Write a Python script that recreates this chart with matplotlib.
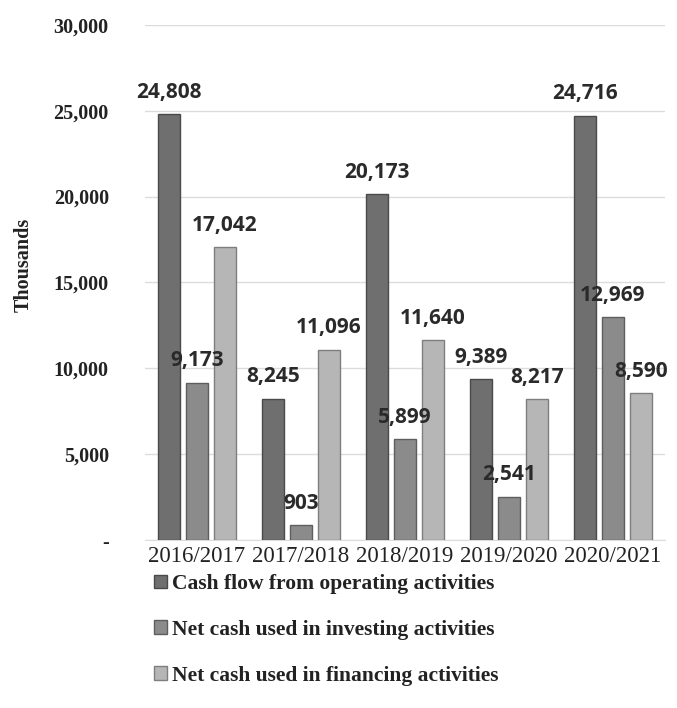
import matplotlib
matplotlib.use("Agg")
import matplotlib.pyplot as plt
import numpy as np
from matplotlib.ticker import FuncFormatter

years = ["2016/2017", "2017/2018", "2018/2019", "2019/2020", "2020/2021"]
operating = [24808, 8245, 20173, 9389, 24716]
investing = [9173, 903, 5899, 2541, 12969]
financing = [17042, 11096, 11640, 8217, 8590]
series_names = ["Cash flow from operating activities",
                "Net cash used in investing activities",
                "Net cash used in financing activities"]
yticks = [0, 5000, 10000, 15000, 20000, 25000, 30000]

colors = ["#6f6f6f", "#8b8b8b", "#b6b6b6"]
edges = ["#4a4a4a", "#5e5e5e", "#7e7e7e"]

fig = plt.figure(figsize=(6.77, 7.08), dpi=100)
ax = fig.add_axes([0.214, 0.237, 0.768, 0.728])

x = np.arange(len(years))
width = 0.21
pitch = 0.27
serif = ["Liberation Serif", "DejaVu Serif"]
handles = []
for i, (vals, name) in enumerate(zip([operating, investing, financing], series_names)):
    pos = x + (i - 1) * pitch
    b = ax.bar(pos, vals, width, color=colors[i], edgecolor=edges[i], linewidth=1.0,
               label=name, zorder=3)
    handles.append(b)
    for p, v in zip(pos, vals):
        ax.annotate(f"{v:,}", (p, v), xytext=(0, 8), textcoords="offset points",
                    ha="center", va="bottom", fontsize=15, fontweight="bold",
                    color="#2a2a2a", family=["Open Sans", "DejaVu Sans"], zorder=6)

ax.set_xlim(-0.5, len(years) - 0.5)
ax.set_ylim(0, 30000)
ax.set_yticks(yticks)
ax.yaxis.set_major_formatter(FuncFormatter(lambda v, _: "-" if v == 0 else f"{int(v):,}"))
ax.set_xticks(x)
ax.set_xticklabels(years, family=serif, fontsize=16.5, color="#222222")
for lab in ax.get_yticklabels():
    lab.set_family(serif)
    lab.set_fontweight("bold")
    lab.set_fontsize(14.5)
    lab.set_color("#222222")
ax.tick_params(axis="both", length=0)
ax.tick_params(axis="y", pad=26)
ax.tick_params(axis="x", pad=4)
ax.grid(axis="y", color="#dcdcdc", linewidth=1.0, zorder=0)
for s in ["top", "right", "left"]:
    ax.spines[s].set_visible(False)
ax.spines["bottom"].set_color("#dcdcdc")
ax.set_ylabel("Thousands", family=serif, fontweight="bold", fontsize=14.5,
              color="#222222")
ax.yaxis.set_label_coords(-0.214, 0.534)

leg = ax.legend(handles=handles, loc="upper left", bbox_to_anchor=(-0.02, -0.028),
                frameon=False, ncol=1, handlelength=0.6, handleheight=0.6,
                handletextpad=0.25, labelspacing=1.2,
                prop={"family": serif, "weight": "bold", "size": 15.5})
for t in leg.get_texts():
    t.set_color("#222222")

fig.savefig("out.png", dpi=100, facecolor="white")
